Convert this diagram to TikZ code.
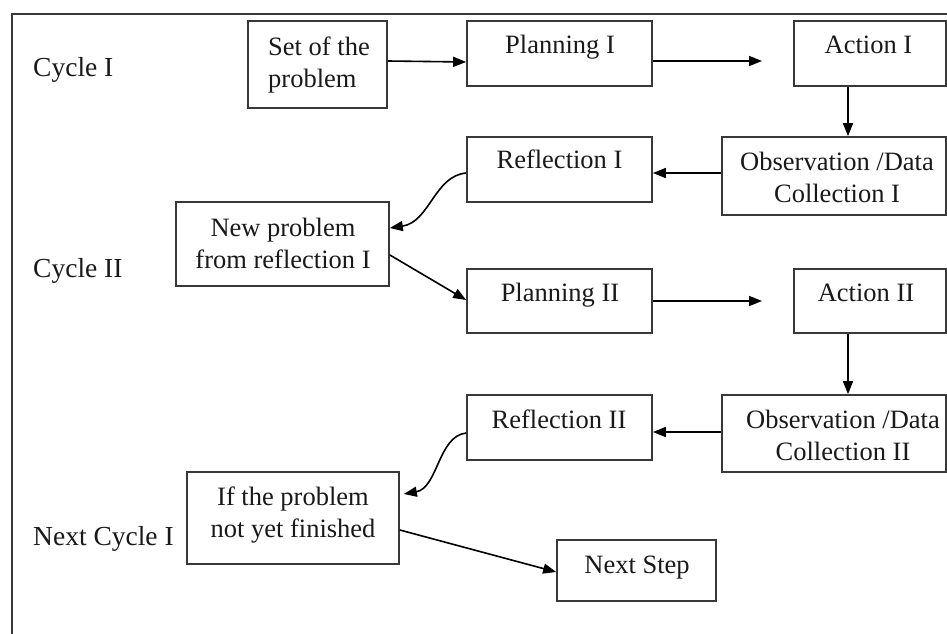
\documentclass[tikz,border=0pt]{standalone}
\usepackage{fontspec}
\setmainfont{Liberation Serif}
\usetikzlibrary{arrows.meta}
\definecolor{linegray}{gray}{0.22}
\definecolor{textblack}{gray}{0.1}
\begin{document}
\begin{tikzpicture}[x=1pt,y=-1pt,
 box/.style={draw=linegray, line width=1.7pt, inner sep=0pt},
 txt/.style={font=\fontsize{26.5}{32}\selectfont, inner sep=0pt, anchor=base, align=center, text=textblack},
 lbl/.style={font=\fontsize{27.5}{32}\selectfont, inner sep=0pt, anchor=base west, text=textblack},
 conn/.style={draw=black, line width=1.6pt, -{Triangle[length=13pt,width=10pt]}},
 frame/.style={draw=linegray, line width=1.6pt}
]
\useasboundingbox (0,0) rectangle (947,634);
\draw[frame] (947,14) -- (12,14) -- (12,634);

% boxes
\node[box, minimum width=139pt, minimum height=87pt] (s) at (317.5,64.5) {};
\node[box, minimum width=185pt, minimum height=65pt] (p1) at (559.5,53.5) {};
\node[box, minimum width=152pt, minimum height=65pt] (a1) at (870,53.5) {};
\node[box, minimum width=185pt, minimum height=65pt] (r1) at (559.5,169.5) {};
\node[box, minimum width=224pt, minimum height=78pt] (o1) at (834,176) {};
\node[box, minimum width=213pt, minimum height=84pt] (n) at (282.5,244) {};
\node[box, minimum width=185pt, minimum height=64pt] (p2) at (559.5,301) {};
\node[box, minimum width=152pt, minimum height=64pt] (a2) at (870,301) {};
\node[box, minimum width=185pt, minimum height=65pt] (r2) at (559.5,427.5) {};
\node[box, minimum width=224pt, minimum height=77pt] (o2) at (834,433.5) {};
\node[box, minimum width=212pt, minimum height=92pt] (f) at (293,518) {};
\node[box, minimum width=159pt, minimum height=61pt] (ns) at (636.5,570.5) {};

% texts (multi-line: base anchor is the last line's baseline)
\node[txt, anchor=base west, align=left] (st) at (268,87) {Set of the\\problem};
\node[txt] (p1t) at (560,53) {Planning I};
\node[txt] (a1t) at (868.5,53) {Action I};
\node[txt] (r1t) at (559.5,168) {Reflection I};
\node[txt] (o1t) at (837,202) {Observation /Data\\Collection I};
\node[txt] (nt) at (283,268) {New problem\\from reflection I};
\node[txt] (p2t) at (560,301) {Planning II};
\node[txt] (a2t) at (866,301) {Action II};
\node[txt] (r2t) at (559,428) {Reflection II};
\node[txt] (o2t) at (843,460) {Observation /Data\\Collection II};
\node[txt] (ft) at (293,537) {If the problem\\not yet finished};
\node[txt] (nst) at (637,573) {Next Step};

% labels
\node[lbl] (c1) at (33,77) {Cycle I};
\node[lbl] (c2) at (33,277) {Cycle II};
\node[lbl] (c3) at (33,545) {Next Cycle I};

% connectors
\coordinate (e1) at (762,61);
\coordinate (e2) at (762,301);
\draw[conn] (s.east |- 0,61) -- (p1.west |- 0,62);
\draw[conn] (p1.east |- 0,61) -- (e1);
\draw[conn] (a1.south -| 848,0) -- (o1.north -| 848,0);
\draw[conn] (o1.west |- 0,173) -- (r1.east |- 0,173);
\draw[conn] (r1.west |- 0,173) .. controls +(-32,3) and +(40,-6) .. (n.east |- 0,228);
\draw[conn] (n.east |- 0,255) -- (p2.west |- 0,300);
\draw[conn] (p2.east |- 0,301) -- (e2);
\draw[conn] (a2.south -| 848,0) -- (o2.north -| 848,0);
\draw[conn] (o2.west |- 0,432) -- (r2.east |- 0,432);
\draw[conn] (r2.west |- 0,433) .. controls +(-28,3) and +(34,-6) .. ([xshift=4pt]f.east |- 0,494);
\draw[conn] (f.east |- 0,530) -- (ns.west |- 0,572);
\end{tikzpicture}
\end{document}
